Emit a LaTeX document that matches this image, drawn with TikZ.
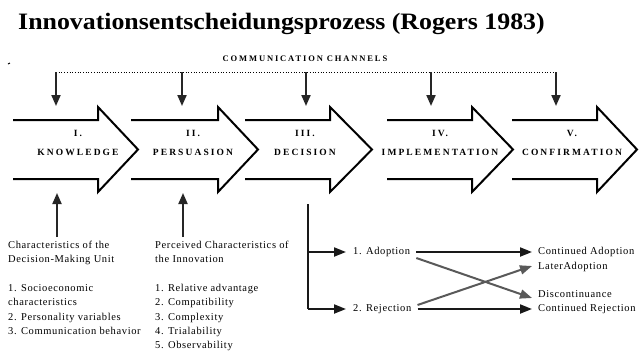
\documentclass[tikz,border=0pt]{standalone}
\usepackage{fontspec}
\setmainfont{Liberation Serif}
\newfontfamily\capsfont[LetterSpace=22]{Liberation Serif}
\newfontfamily\notefont[LetterSpace=6]{Liberation Serif}
\usetikzlibrary{arrows.meta}

\begin{document}
\begin{tikzpicture}[x=1pt, y=-1pt,
  stage/.style={draw=black, line width=2pt, line join=miter},
  stagelabel/.style={font=\capsfont\bfseries\fontsize{9.5}{19}\selectfont, align=center, inner sep=0},
  channel/.style={-{Triangle[length=11pt, width=9pt]}, line width=2pt, draw=black!85},
  feed/.style={-{Triangle[length=12pt, width=9pt]}, line width=2pt, draw=black!90},
  cross/.style={feed, draw=black!65},
  note/.style={font=\notefont\fontsize{10.5}{14.3}\selectfont, align=left, anchor=north west, inner sep=0},
  outcome/.style={font=\notefont\fontsize{10.5}{12}\selectfont, anchor=west, inner sep=0},
]
\useasboundingbox (0,0) rectangle (639,356);

% title
\node[anchor=base west, inner sep=0, font=\bfseries\fontsize{23.5}{26}\selectfont] (title) at (18,29)
  {\scalebox{1.1}[1]{Innovationsentscheidungsprozess (Rogers 1983)}};

% small stray mark at the upper left
\draw[line width=1pt] (8,64) -- (10,63);

% the five stage arrows: left end, start of head, tip
\foreach \l/\n/\t in {13/98/138, 131/218/258, 245/330/372, 387/472/513, 512/597/637}
  \draw[stage] (\l,120) -- (\n,120) -- (\n,107) -- (\t,149.5) -- (\n,192) -- (\n,179) -- (\l,179);

\node[stagelabel] (knowledge)  at (78,143)  {I.\\KNOWLEDGE};
\node[stagelabel] (persuasion) at (193,143) {II.\\PERSUASION};
\node[stagelabel] (decision)   at (305,143) {III.\\DECISION};
\node[stagelabel] (implement)  at (440,143) {IV.\\IMPLEMENTATION};
\node[stagelabel] (confirm)    at (572,143) {V.\\CONFIRMATION};

% communication channels feeding every stage
\node[font=\capsfont\bfseries\fontsize{8.5}{10}\selectfont, inner sep=0] (channels) at (305,59)
  {COMMUNICATION CHANNELS};
\foreach \x [count=\i] in {56,182,306,431,556} {
  \coordinate (ch\i) at (\x,72);
  \coordinate (in\i) at (\x,106);
}
\draw[dotted, line width=0.7pt] (ch1) -- (ch5);
\foreach \i in {1,...,5}
  \draw[channel] (ch\i) -- (in\i);

% antecedents pushing into knowledge and persuasion
\coordinate (unitTop) at (57,237);
\coordinate (unitIn) at (57,193);
\coordinate (innoTop) at (183,237);
\coordinate (innoIn) at (183,193);
\draw[channel] (unitTop) -- (unitIn);
\draw[channel] (innoTop) -- (innoIn);

\node[note] (unit) at (8,241) {Characteristics of the\\Decision-Making Unit\\[14.3pt]
  1. Socioeconomic\\characteristics\\2. Personality variables\\3. Communication behavior};
\node[note] (innovation) at (155,241) {Perceived Characteristics of\\the Innovation\\[14.3pt]
  1. Relative advantage\\2. Compatibility\\3. Complexity\\4. Trialability\\5. Observability};

% decision branches
\coordinate (branchTop) at (308,204);
\coordinate (branchA) at (308,252);
\coordinate (branchR) at (308,309);
\draw[line width=2pt, draw=black!90] (branchTop) -- (branchR);

\node[outcome] (adopt)  at (353,252) {1. Adoption};
\node[outcome] (reject) at (353,309) {2. Rejection};
\draw[feed] (branchA) -- ([xshift=-7pt]adopt.west);
\draw[feed] (branchR) -- ([xshift=-7pt]reject.west);

\node[outcome] (contA)  at (538,252) {Continued Adoption};
\node[outcome] (later)  at (538,267) {LaterAdoption};
\node[outcome] (discon) at (538,294) {Discontinuance};
\node[outcome] (contR)  at (538,309) {Continued Rejection};

\draw[feed]  ([xshift=6pt]adopt.east)  -- ([xshift=-6pt]contA.west);
\draw[feed]  ([xshift=6pt]reject.east) -- ([xshift=-6pt]contR.west);
\draw[cross] ([xshift=6pt,yshift=-6pt]adopt.east) -- ([xshift=-6pt,yshift=-4pt]discon.west);
\draw[cross] ([xshift=6pt,yshift=4pt]reject.east) -- ([xshift=-6pt,yshift=1pt]later.west);
\end{tikzpicture}
\end{document}
